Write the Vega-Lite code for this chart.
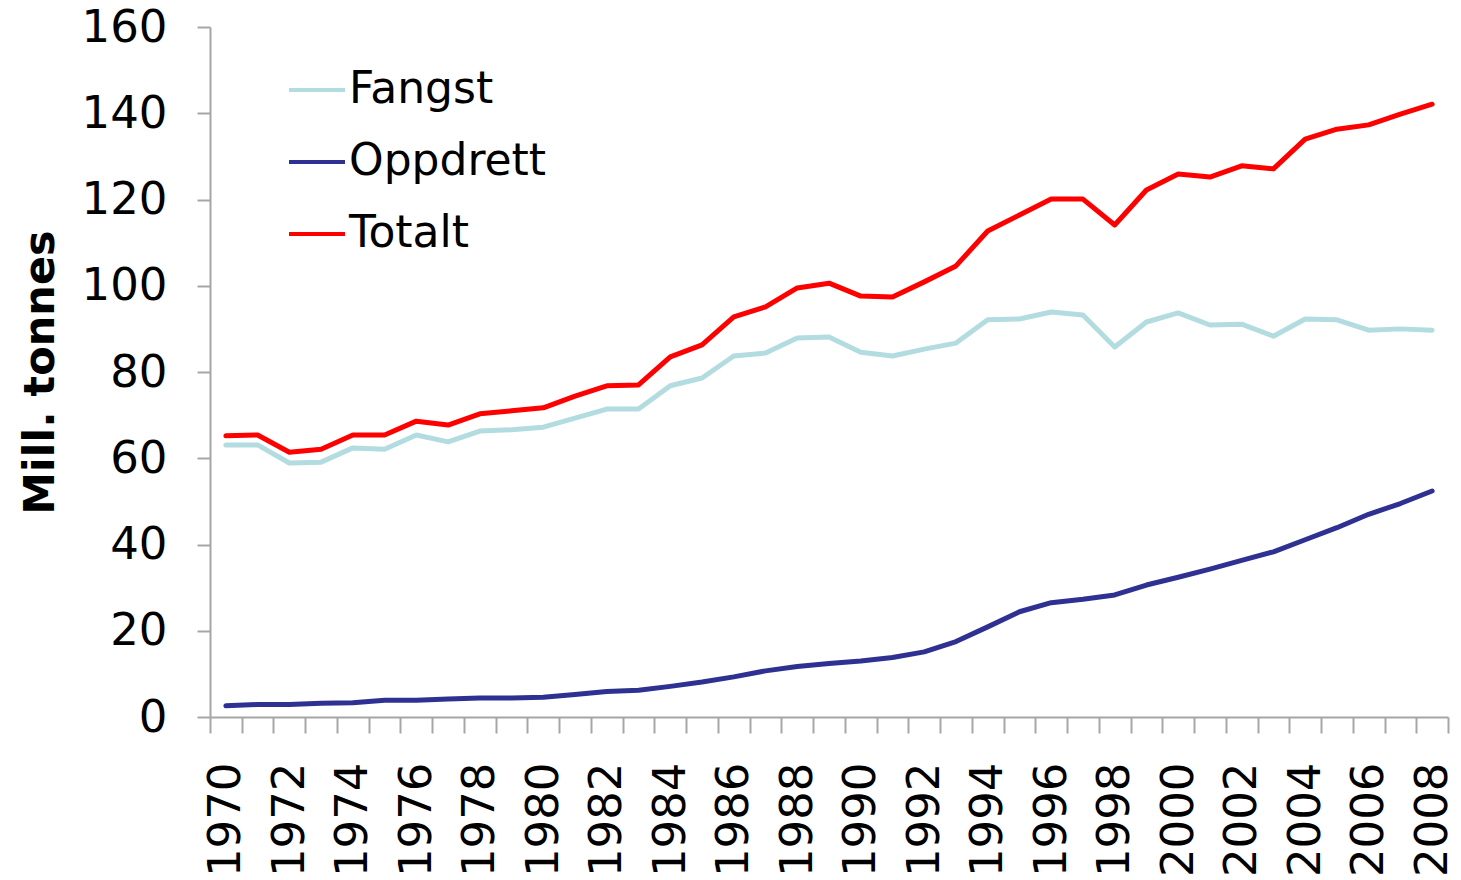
{
  "$schema": "https://vega.github.io/schema/vega-lite/v6.json",
  "autosize": "none",
  "width": 1238,
  "height": 690,
  "padding": {"left": 210, "top": 27, "right": 13, "bottom": 163},
  "background": "white",
  "config": {
    "view": {"stroke": null},
    "font": "DejaVu Sans"
  },
  "data": {
    "values": [
      {"year": 1970, "series": "Fangst", "value": 63.1},
      {"year": 1971, "series": "Fangst", "value": 63.1},
      {"year": 1972, "series": "Fangst", "value": 58.9},
      {"year": 1973, "series": "Fangst", "value": 59.1},
      {"year": 1974, "series": "Fangst", "value": 62.4},
      {"year": 1975, "series": "Fangst", "value": 62.1},
      {"year": 1976, "series": "Fangst", "value": 65.4},
      {"year": 1977, "series": "Fangst", "value": 63.8},
      {"year": 1978, "series": "Fangst", "value": 66.3},
      {"year": 1979, "series": "Fangst", "value": 66.6},
      {"year": 1980, "series": "Fangst", "value": 67.2},
      {"year": 1981, "series": "Fangst", "value": 69.3},
      {"year": 1982, "series": "Fangst", "value": 71.4},
      {"year": 1983, "series": "Fangst", "value": 71.4},
      {"year": 1984, "series": "Fangst", "value": 76.8},
      {"year": 1985, "series": "Fangst", "value": 78.6},
      {"year": 1986, "series": "Fangst", "value": 83.7},
      {"year": 1987, "series": "Fangst", "value": 84.4},
      {"year": 1988, "series": "Fangst", "value": 87.9},
      {"year": 1989, "series": "Fangst", "value": 88.1},
      {"year": 1990, "series": "Fangst", "value": 84.6},
      {"year": 1991, "series": "Fangst", "value": 83.7},
      {"year": 1992, "series": "Fangst", "value": 85.3},
      {"year": 1993, "series": "Fangst", "value": 86.7},
      {"year": 1994, "series": "Fangst", "value": 92.1},
      {"year": 1995, "series": "Fangst", "value": 92.3},
      {"year": 1996, "series": "Fangst", "value": 93.9},
      {"year": 1997, "series": "Fangst", "value": 93.2},
      {"year": 1998, "series": "Fangst", "value": 85.8},
      {"year": 1999, "series": "Fangst", "value": 91.6},
      {"year": 2000, "series": "Fangst", "value": 93.7},
      {"year": 2001, "series": "Fangst", "value": 90.9},
      {"year": 2002, "series": "Fangst", "value": 91.1},
      {"year": 2003, "series": "Fangst", "value": 88.3},
      {"year": 2004, "series": "Fangst", "value": 92.3},
      {"year": 2005, "series": "Fangst", "value": 92.1},
      {"year": 2006, "series": "Fangst", "value": 89.7},
      {"year": 2007, "series": "Fangst", "value": 90.0},
      {"year": 2008, "series": "Fangst", "value": 89.7},
      {"year": 1970, "series": "Oppdrett", "value": 2.6},
      {"year": 1971, "series": "Oppdrett", "value": 2.9},
      {"year": 1972, "series": "Oppdrett", "value": 2.9},
      {"year": 1973, "series": "Oppdrett", "value": 3.2},
      {"year": 1974, "series": "Oppdrett", "value": 3.3},
      {"year": 1975, "series": "Oppdrett", "value": 3.9},
      {"year": 1976, "series": "Oppdrett", "value": 3.9},
      {"year": 1977, "series": "Oppdrett", "value": 4.2},
      {"year": 1978, "series": "Oppdrett", "value": 4.4},
      {"year": 1979, "series": "Oppdrett", "value": 4.4},
      {"year": 1980, "series": "Oppdrett", "value": 4.6},
      {"year": 1981, "series": "Oppdrett", "value": 5.2},
      {"year": 1982, "series": "Oppdrett", "value": 5.9},
      {"year": 1983, "series": "Oppdrett", "value": 6.2},
      {"year": 1984, "series": "Oppdrett", "value": 7.1},
      {"year": 1985, "series": "Oppdrett", "value": 8.1},
      {"year": 1986, "series": "Oppdrett", "value": 9.3},
      {"year": 1987, "series": "Oppdrett", "value": 10.7},
      {"year": 1988, "series": "Oppdrett", "value": 11.7},
      {"year": 1989, "series": "Oppdrett", "value": 12.4},
      {"year": 1990, "series": "Oppdrett", "value": 13.0},
      {"year": 1991, "series": "Oppdrett", "value": 13.8},
      {"year": 1992, "series": "Oppdrett", "value": 15.1},
      {"year": 1993, "series": "Oppdrett", "value": 17.5},
      {"year": 1994, "series": "Oppdrett", "value": 20.9},
      {"year": 1995, "series": "Oppdrett", "value": 24.4},
      {"year": 1996, "series": "Oppdrett", "value": 26.5},
      {"year": 1997, "series": "Oppdrett", "value": 27.3},
      {"year": 1998, "series": "Oppdrett", "value": 28.3},
      {"year": 1999, "series": "Oppdrett", "value": 30.6},
      {"year": 2000, "series": "Oppdrett", "value": 32.4},
      {"year": 2001, "series": "Oppdrett", "value": 34.3},
      {"year": 2002, "series": "Oppdrett", "value": 36.3},
      {"year": 2003, "series": "Oppdrett", "value": 38.3},
      {"year": 2004, "series": "Oppdrett", "value": 41.1},
      {"year": 2005, "series": "Oppdrett", "value": 43.9},
      {"year": 2006, "series": "Oppdrett", "value": 47.0},
      {"year": 2007, "series": "Oppdrett", "value": 49.5},
      {"year": 2008, "series": "Oppdrett", "value": 52.4},
      {"year": 1970, "series": "Totalt", "value": 65.2},
      {"year": 1971, "series": "Totalt", "value": 65.4},
      {"year": 1972, "series": "Totalt", "value": 61.4},
      {"year": 1973, "series": "Totalt", "value": 62.1},
      {"year": 1974, "series": "Totalt", "value": 65.4},
      {"year": 1975, "series": "Totalt", "value": 65.4},
      {"year": 1976, "series": "Totalt", "value": 68.6},
      {"year": 1977, "series": "Totalt", "value": 67.7},
      {"year": 1978, "series": "Totalt", "value": 70.3},
      {"year": 1979, "series": "Totalt", "value": 71.0},
      {"year": 1980, "series": "Totalt", "value": 71.7},
      {"year": 1981, "series": "Totalt", "value": 74.4},
      {"year": 1982, "series": "Totalt", "value": 76.8},
      {"year": 1983, "series": "Totalt", "value": 77.0},
      {"year": 1984, "series": "Totalt", "value": 83.5},
      {"year": 1985, "series": "Totalt", "value": 86.3},
      {"year": 1986, "series": "Totalt", "value": 92.8},
      {"year": 1987, "series": "Totalt", "value": 95.1},
      {"year": 1988, "series": "Totalt", "value": 99.5},
      {"year": 1989, "series": "Totalt", "value": 100.6},
      {"year": 1990, "series": "Totalt", "value": 97.6},
      {"year": 1991, "series": "Totalt", "value": 97.4},
      {"year": 1992, "series": "Totalt", "value": 100.9},
      {"year": 1993, "series": "Totalt", "value": 104.6},
      {"year": 1994, "series": "Totalt", "value": 112.7},
      {"year": 1995, "series": "Totalt", "value": 116.4},
      {"year": 1996, "series": "Totalt", "value": 120.1},
      {"year": 1997, "series": "Totalt", "value": 120.1},
      {"year": 1998, "series": "Totalt", "value": 114.1},
      {"year": 1999, "series": "Totalt", "value": 122.2},
      {"year": 2000, "series": "Totalt", "value": 125.9},
      {"year": 2001, "series": "Totalt", "value": 125.2},
      {"year": 2002, "series": "Totalt", "value": 127.8},
      {"year": 2003, "series": "Totalt", "value": 127.1},
      {"year": 2004, "series": "Totalt", "value": 134.0},
      {"year": 2005, "series": "Totalt", "value": 136.3},
      {"year": 2006, "series": "Totalt", "value": 137.3},
      {"year": 2007, "series": "Totalt", "value": 139.8},
      {"year": 2008, "series": "Totalt", "value": 142.1}
    ]
  },
  "mark": {"type": "line", "strokeWidth": 5, "strokeCap": "round", "strokeJoin": "round"},
  "encoding": {
    "x": {
      "field": "year",
      "type": "ordinal",
      "bandPosition": 0.5,
      "scale": {"type": "band", "paddingInner": 0, "paddingOuter": 0},
      "axis": {
        "title": null,
        "tickBand": "extent",
        "labelAngle": -90,
        "labelAlign": "right",
        "labelBaseline": "middle",
        "labelFontSize": 45,
        "labelColor": "#000000",
        "labelPadding": 29,
        "labelExpr": "datum.value % 2 == 0 ? datum.label : ''",
        "tickSize": 16,
        "tickColor": "#a6a6a6",
        "tickWidth": 2,
        "domainColor": "#a6a6a6",
        "domainWidth": 2,
        "grid": false,
        "labelOverlap": false
      }
    },
    "y": {
      "field": "value",
      "type": "quantitative",
      "scale": {"domain": [0, 160], "nice": false, "zero": true},
      "axis": {
        "title": "Mill. tonnes",
        "titleFontSize": 43,
        "titleFontWeight": "bold",
        "titleColor": "#000000",
        "titleAngle": -90,
        "titleAlign": "center",
        "titleBaseline": "middle",
        "titleX": -170,
        "titleY": 345,
        "values": [0, 20, 40, 60, 80, 100, 120, 140, 160],
        "labelFontSize": 45,
        "labelColor": "#000000",
        "labelPadding": 30,
        "tickSize": 13,
        "tickColor": "#a6a6a6",
        "tickWidth": 2,
        "domainColor": "#a6a6a6",
        "domainWidth": 2,
        "grid": false
      }
    },
    "color": {
      "field": "series",
      "type": "nominal",
      "scale": {"domain": ["Fangst", "Oppdrett", "Totalt"], "range": ["#b2dcdf", "#2e3192", "#ff0000"]},
      "legend": {
        "title": null,
        "orient": "none",
        "legendX": 77,
        "legendY": 33,
        "symbolType": "stroke",
        "symbolSize": 3136,
        "symbolStrokeWidth": 4,
        "labelFontSize": 44,
        "labelColor": "#000000",
        "labelOffset": 2,
        "rowPadding": 20,
        "labelLimit": 500
      }
    }
  }
}
